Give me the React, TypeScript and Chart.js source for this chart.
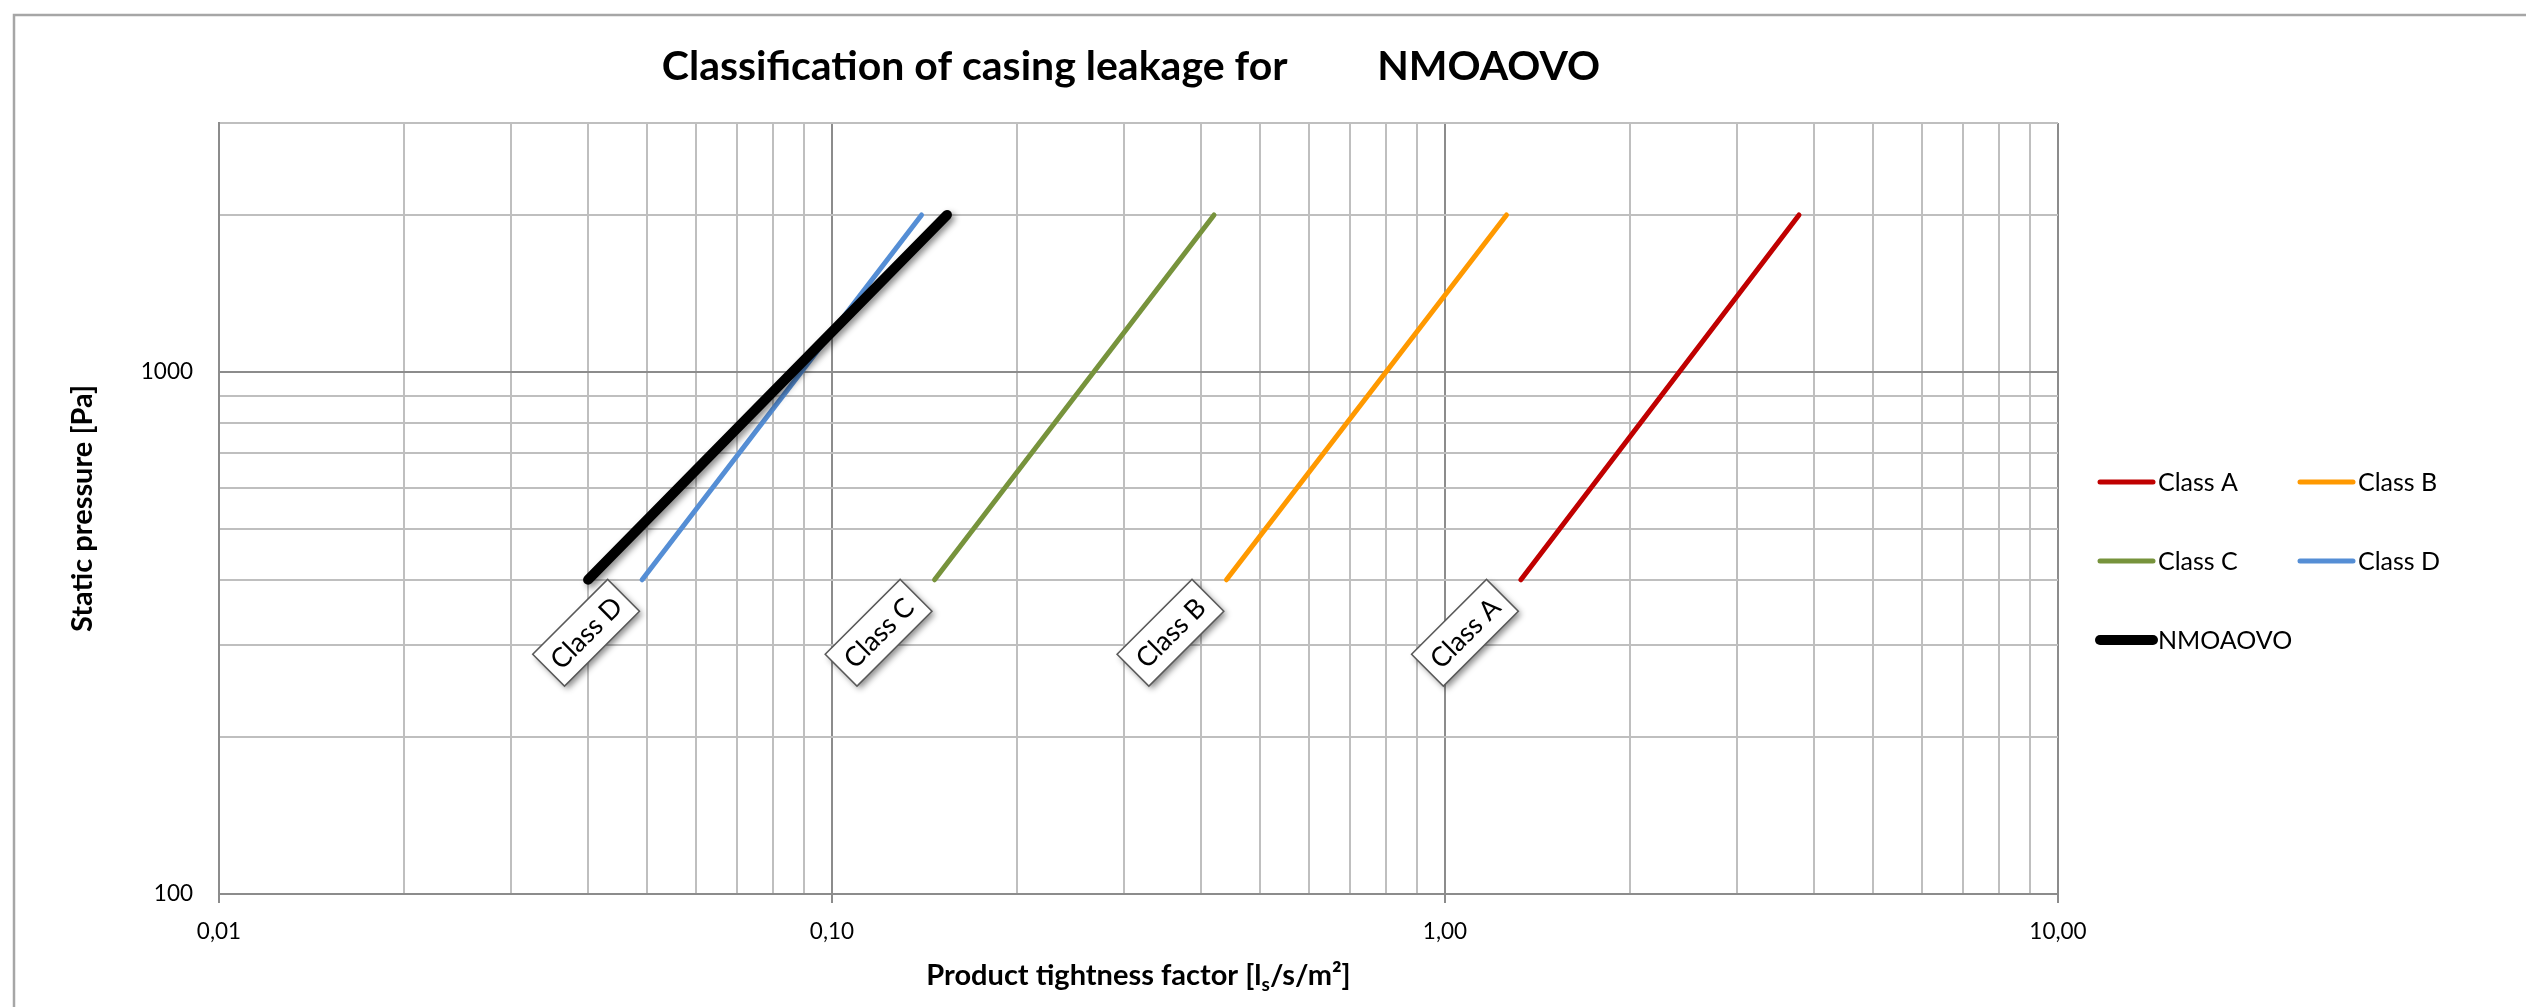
import React, { useEffect, useRef } from 'react';
import { Chart, registerables } from 'chart.js';

Chart.register(...registerables);

// ---- data ----
const pressure = [400, 2000];
const classA = [1.33, 3.78];
const classB = [0.44, 1.26];
const classC = [0.147, 0.42];
const classD = [0.049, 0.14];
const nmoaovo = [0.04, 0.154];

const seriesNames = ['Class A', 'Class B', 'Class C', 'Class D', 'NMOAOVO'];
const seriesValues = [classA, classB, classC, classD, nmoaovo];
const seriesColors = ['#C00000', '#FF9900', '#77933C', '#558ED5', '#000000'];
const seriesWidths = [5, 5, 5, 5, 10];
const labelledSeries = [0, 1, 2, 3];

const xRange = [0.01, 10];
const yRange = [100, 3000];

const chartTitle = 'Classification of casing leakage for         NMOAOVO';
const yAxisTitle = 'Static pressure [Pa]';
const xAxisTitleParts = ['Product tightness factor [l', 's', '/s/m²]'];

const FONT = 'Lato, "Open Sans", "DejaVu Sans", sans-serif';

function mantissa(v: number) {
  const e = Math.floor(Math.log10(v) + 1e-9);
  return v / Math.pow(10, e);
}
function isMajor(v: number) {
  return Math.abs(mantissa(v) - 1) < 1e-6;
}
function isIntMant(v: number) {
  const m = mantissa(v);
  return Math.abs(m - Math.round(m)) < 1e-6;
}
function gridColor(ctx: any) {
  const v = ctx && ctx.tick ? ctx.tick.value : null;
  if (v == null) return '#bfbfbf';
  if (!isIntMant(v)) return 'rgba(0,0,0,0)';
  return isMajor(v) ? '#8c8c8c' : '#bfbfbf';
}

const decor = {
  id: 'decor',
  beforeDraw(chart: any) {
    const ctx = chart.ctx;
    ctx.save();
    ctx.fillStyle = '#ffffff';
    ctx.fillRect(0, 0, chart.width, chart.height);
    ctx.strokeStyle = '#a6a6a6';
    ctx.lineWidth = 2.5;
    ctx.strokeRect(14, 15, chart.width + 40, chart.height + 40);
    ctx.restore();
  },
  beforeDatasetDraw(chart: any, args: any) {
    if (args.index === 4) {
      const ctx = chart.ctx;
      ctx.save();
      ctx.shadowColor = 'rgba(0,0,0,0.45)';
      ctx.shadowBlur = 6;
      ctx.shadowOffsetX = 3;
      ctx.shadowOffsetY = 3;
    }
  },
  afterDatasetDraw(chart: any, args: any) {
    if (args.index === 4) chart.ctx.restore();
  },
  afterDatasetsDraw(chart: any) {
    const ctx = chart.ctx;
    labelledSeries.forEach((i) => {
      const pt = chart.getDatasetMeta(i).data[0];
      if (!pt) return;
      const cx = pt.x - 56;
      const cy = pt.y + 53;
      ctx.save();
      ctx.translate(cx, cy);
      ctx.rotate(-Math.PI / 4);
      ctx.shadowColor = 'rgba(0,0,0,0.45)';
      ctx.shadowBlur = 6;
      ctx.shadowOffsetX = 3;
      ctx.shadowOffsetY = 3;
      ctx.fillStyle = '#ffffff';
      ctx.fillRect(-53, -22.5, 106, 45);
      ctx.shadowColor = 'rgba(0,0,0,0)';
      ctx.strokeStyle = '#595959';
      ctx.lineWidth = 1.5;
      ctx.strokeRect(-53, -22.5, 106, 45);
      ctx.fillStyle = '#000000';
      ctx.font = `27px ${FONT}`;
      ctx.textAlign = 'center';
      ctx.textBaseline = 'middle';
      ctx.fillText(seriesNames[i], 0, 1);
      ctx.restore();
    });
  },
  afterDraw(chart: any) {
    const ctx = chart.ctx;
    const area = chart.chartArea;
    ctx.save();
    // title
    ctx.fillStyle = '#000000';
    ctx.font = `bold 41px ${FONT}`;
    ctx.textAlign = 'center';
    ctx.textBaseline = 'alphabetic';
    ctx.fillText(chartTitle, 1131, 80);

    // x axis title with subscript
    const mainFont = `bold 29px ${FONT}`;
    const subFont = `bold 19px ${FONT}`;
    ctx.font = mainFont;
    const w1 = ctx.measureText(xAxisTitleParts[0]).width;
    const w3 = ctx.measureText(xAxisTitleParts[2]).width;
    ctx.font = subFont;
    const w2 = ctx.measureText(xAxisTitleParts[1]).width;
    const total = w1 + w2 + w3;
    let x = (area.left + area.right) / 2 - total / 2;
    const by = 985;
    ctx.textAlign = 'left';
    ctx.font = mainFont;
    ctx.fillText(xAxisTitleParts[0], x, by);
    x += w1;
    ctx.font = subFont;
    ctx.fillText(xAxisTitleParts[1], x, by + 6);
    x += w2;
    ctx.font = mainFont;
    ctx.fillText(xAxisTitleParts[2], x, by);

    // legend
    ctx.font = `25px ${FONT}`;
    ctx.textBaseline = 'middle';
    seriesNames.forEach((name, i) => {
      const row = Math.floor(i / 2);
      const col = i % 2;
      const x0 = 2100 + col * 200;
      const x1 = x0 + 53;
      const y = 482 + row * 79;
      ctx.beginPath();
      ctx.strokeStyle = seriesColors[i];
      ctx.lineWidth = i === 4 ? 10 : 5;
      ctx.lineCap = 'round';
      ctx.moveTo(x0, y);
      ctx.lineTo(x1, y);
      ctx.stroke();
      ctx.fillStyle = '#000000';
      ctx.fillText(name, x1 + 5, y + 1);
    });
    ctx.restore();
  },
};

export default function App() {
  const ref = useRef<HTMLCanvasElement>(null);
  useEffect(() => {
    const datasets = seriesNames.map((name, i) => ({
      label: name,
      data: pressure.map((p, j) => ({ x: seriesValues[i][j], y: p })),
      borderColor: seriesColors[i],
      backgroundColor: seriesColors[i],
      borderWidth: seriesWidths[i],
      borderCapStyle: 'round' as const,
      showLine: true,
      pointRadius: 0,
      pointHoverRadius: 0,
      fill: false,
      order: i === 4 ? -1 : i,
    }));
    const chart = new Chart(ref.current as HTMLCanvasElement, {
      type: 'scatter',
      data: { datasets },
      plugins: [decor],
      options: {
        responsive: false,
        animation: false,
        events: [],
        layout: { padding: { left: 0, top: 123, right: 468, bottom: 0 } },
        plugins: {
          legend: { display: false },
          title: { display: false },
          tooltip: { enabled: false },
        },
        scales: {
          x: {
            type: 'logarithmic',
            position: 'bottom',
            min: xRange[0],
            max: xRange[1],
            afterFit: (s: any) => {
              s.height = 113;
              s.paddingLeft = 0;
              s.paddingRight = 0;
            },
            ticks: {
              autoSkip: false,
              maxRotation: 0,
              minRotation: 0,
              padding: 15,
              color: '#000000',
              font: { family: FONT, size: 22.5 },
              callback: (v: any) => (isMajor(Number(v)) ? Number(v).toFixed(2).replace('.', ',') : ''),
            },
            grid: {
              lineWidth: 2,
              color: gridColor,
              drawTicks: true,
              tickLength: 9,
              tickWidth: 2,
              tickColor: (ctx: any) => (ctx && ctx.tick && isMajor(ctx.tick.value) ? '#8c8c8c' : 'rgba(0,0,0,0)'),
            },
            border: { color: '#8c8c8c', width: 2 },
          },
          y: {
            type: 'logarithmic',
            position: 'left',
            min: yRange[0],
            max: yRange[1],
            afterFit: (s: any) => {
              s.width = 219;
              s.paddingTop = 0;
              s.paddingBottom = 0;
            },
            ticks: {
              autoSkip: false,
              padding: 26,
              color: '#000000',
              font: { family: FONT, size: 22.5 },
              callback: (v: any) => (isMajor(Number(v)) ? String(Math.round(Number(v))) : ''),
            },
            grid: {
              lineWidth: 2,
              color: gridColor,
              drawTicks: false,
            },
            border: { color: '#8c8c8c', width: 2 },
            title: {
              display: true,
              text: yAxisTitle,
              color: '#000000',
              font: { family: FONT, size: 29, weight: 'bold' },
              padding: { top: 65, bottom: 0 },
            },
          },
        },
      } as any,
    });
    return () => chart.destroy();
  }, []);
  return (
    <div style={{ position: 'fixed', left: 0, top: 0, width: 2526, height: 1007, background: '#ffffff' }}>
      <canvas ref={ref} width={2526} height={1007} style={{ display: 'block', width: 2526, height: 1007 }} />
    </div>
  );
}
